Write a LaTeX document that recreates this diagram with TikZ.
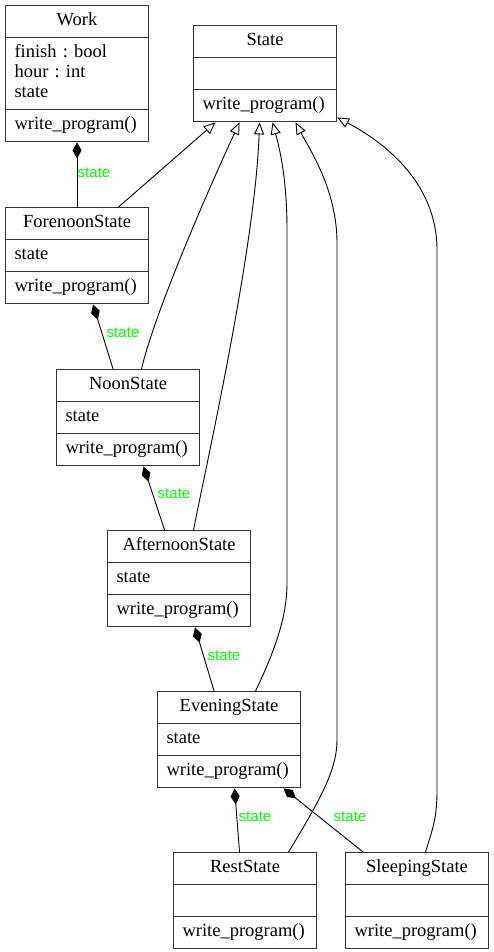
\documentclass[tikz,border=0pt]{standalone}
\usepackage{fontspec}
\setmainfont{Liberation Serif}
\newfontfamily\labelfont{Liberation Sans}
\usetikzlibrary{shapes.multipart, arrows.meta}
\frenchspacing

\tikzset{
  umlclass/.style={rectangle split, rectangle split parts=3, draw=black!80, line width=1.1pt,
    anchor=north west, text width=125pt, inner xsep=9pt, inner ysep=5.5pt,
    font=\fontsize{18.5}{20}\selectfont},
  rolelabel/.style={text=green, inner sep=0pt, font=\labelfont\fontsize{15}{17}\selectfont},
  composition/.style={{Diamond[length=16pt,width=9pt]}-, line width=0.9pt},
  generalization/.style={-{Triangle[open,length=12pt,width=10pt]}, line width=0.9pt}
}

\begin{document}
\begin{tikzpicture}[x=1pt, y=-1pt]
        \useasboundingbox (0,0) rectangle (493,952);

        % classes
        \node[umlclass] (work) at (5,5) {\centering\strut Work\par
          \nodepart{two}\strut finish : bool\\\strut hour : int\\\strut state
          \nodepart{three}\strut write\_program()};
        \node[umlclass] (state) at (193,25) {\centering\strut State\par
          \nodepart{two}\strut
          \nodepart{three}\strut write\_program()};
        \node[umlclass] (forenoon) at (5,207) {\centering\strut ForenoonState\par
          \nodepart{two}\strut state
          \nodepart{three}\strut write\_program()};
        \node[umlclass] (noon) at (56,369) {\centering\strut NoonState\par
          \nodepart{two}\strut state
          \nodepart{three}\strut write\_program()};
        \node[umlclass] (afternoon) at (107,530) {\centering\strut AfternoonState\par
          \nodepart{two}\strut state
          \nodepart{three}\strut write\_program()};
        \node[umlclass] (evening) at (157,691) {\centering\strut EveningState\par
          \nodepart{two}\strut state
          \nodepart{three}\strut write\_program()};
        \node[umlclass] (rest) at (173,852) {\centering\strut RestState\par
          \nodepart{two}\strut
          \nodepart{three}\strut write\_program()};
        \node[umlclass] (sleeping) at (345,852) {\centering\strut SleepingState\par
          \nodepart{two}\strut
          \nodepart{three}\strut write\_program()};

        % has-a
        \draw[composition] (work.south) -- (forenoon.north);
        \draw[composition] ([xshift=16pt]forenoon.south) -- ([xshift=-15pt]noon.north);
        \draw[composition] ([xshift=15.5pt]noon.south) -- ([xshift=-14.5pt]afternoon.north);
        \draw[composition] ([xshift=16pt]afternoon.south) -- ([xshift=-15pt]evening.north);
        \draw[composition] ([xshift=5.5pt]evening.south) -- ([xshift=-5.5pt]rest.north);
        \draw[composition] ([xshift=54.5pt]evening.south) -- ([xshift=-54pt]sleeping.north);

        \node[rolelabel] (lwork) at (94,173) {state};
        \node[rolelabel] (lforenoon) at (123,333) {state};
        \node[rolelabel] (lnoon) at (174,494) {state};
        \node[rolelabel] (lafternoon) at (224,656) {state};
        \node[rolelabel] (lrest) at (255,817) {state};
        \node[rolelabel] (lsleeping) at (350,817) {state};

        % is-a
        \draw[generalization] ([xshift=41.5pt]forenoon.north) -- ([xshift=-49.5pt]state.south);
        \draw[generalization] ([xshift=13.5pt]noon.north) .. controls (155,310) and (215,175) .. ([xshift=-25.5pt]state.south);
        \draw[generalization] ([xshift=14.5pt]afternoon.north) .. controls (205,470) and (255,250) .. ([xshift=-5.5pt]state.south);
        \draw[generalization] ([xshift=26.5pt]evening.north) .. controls (280,640) and (287,610) .. (287,583)
            -- (287,230) .. controls (287,180) and (280,150) .. ([xshift=7.5pt]state.south);
        \draw[generalization] ([xshift=43.5pt]rest.north) .. controls (320,800) and (337,770) .. (337,740)
            -- (337,243) .. controls (337,190) and (310,150) .. ([xshift=30.5pt]state.south);
        \draw[generalization] ([xshift=8.5pt]sleeping.north) .. controls (432,830) and (437,820) .. (437,790)
            -- (437,250) .. controls (437,180) and (380,140) .. ([yshift=5pt]state.south east);
\end{tikzpicture}
\end{document}
